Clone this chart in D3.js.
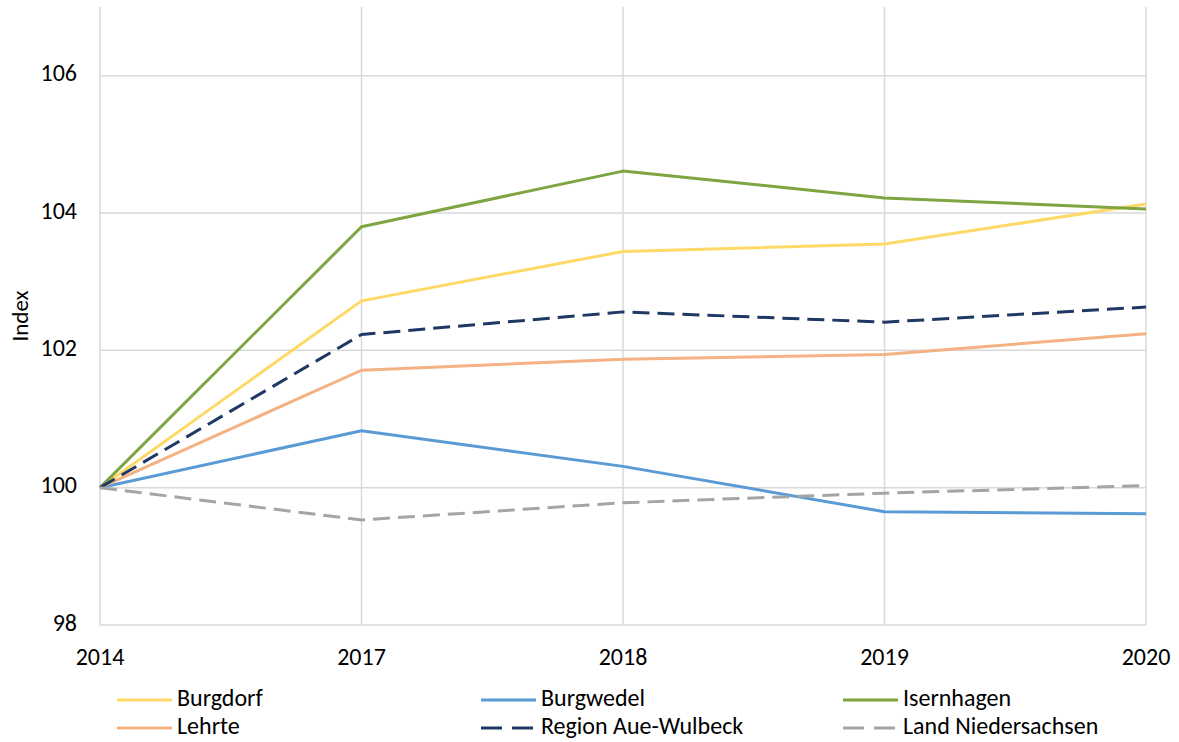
<!DOCTYPE html>
<html>
<head>
  <meta charset="utf-8">
  <style>
    body { margin: 0; background: #fff; }
    text { font-family: Carlito, Lato, "Open Sans", sans-serif; fill: #000; }
  </style>
</head>
<body>
  <script src="https://cdn.jsdelivr.net/npm/d3@7"></script>
  <script>
    const W = 1179, H = 742;

    // data
    const years = ["2014", "2017", "2018", "2019", "2020"];
    const yTicks = [98, 100, 102, 104, 106];
    const burgdorf   = [100, 102.72, 103.44, 103.55, 104.13];
    const burgwedel  = [100, 100.83, 100.31, 99.65, 99.62];
    const isernhagen = [100, 103.80, 104.61, 104.22, 104.06];
    const lehrte     = [100, 101.71, 101.87, 101.94, 102.24];
    const region     = [100, 102.23, 102.56, 102.41, 102.63];
    const land       = [100, 99.53, 99.78, 99.92, 100.03];

    const series = [
      { name: "Burgdorf", values: burgdorf, color: "#ffd966", dash: null },
      { name: "Burgwedel", values: burgwedel, color: "#5b9bd5", dash: null },
      { name: "Isernhagen", values: isernhagen, color: "#7fa442", dash: null },
      { name: "Lehrte", values: lehrte, color: "#f4b183", dash: null },
      { name: "Region Aue-Wulbeck", values: region, color: "#1f3864", dash: "17,8" },
      { name: "Land Niedersachsen", values: land, color: "#a5a5a5", dash: "17,8" }
    ];

    const x = d3.scalePoint().domain(years).range([100, 1146]);
    const y = d3.scaleLinear().domain([98, 107]).range([625, 7]);

    const svg = d3.select("body").append("svg")
      .attr("width", W).attr("height", H);

    // grid
    svg.append("g").selectAll("line.h")
      .data(yTicks).enter().append("line")
      .attr("x1", 100).attr("x2", 1146)
      .attr("y1", d => y(d)).attr("y2", d => y(d))
      .attr("stroke", "#d9d9d9").attr("stroke-width", 1.5);
    svg.append("g").selectAll("line.v")
      .data(years).enter().append("line")
      .attr("x1", d => x(d)).attr("x2", d => x(d))
      .attr("y1", y(107)).attr("y2", y(98))
      .attr("stroke", "#d9d9d9").attr("stroke-width", 1.5);

    // y labels
    svg.append("g").selectAll("text")
      .data(yTicks).enter().append("text")
      .attr("x", 77).attr("y", d => y(d))
      .attr("text-anchor", "end").attr("dominant-baseline", "middle")
      .style("font-size", "24px")
      .text(d => d);

    // x labels
    svg.append("g").selectAll("text")
      .data(years).enter().append("text")
      .attr("x", d => x(d)).attr("y", 665)
      .attr("text-anchor", "middle")
      .style("font-size", "24px")
      .text(d => d);

    svg.append("text")
      .attr("transform", `translate(28, 316) rotate(-90)`)
      .attr("text-anchor", "middle")
      .style("font-size", "23px")
      .text("Index");

    const line = d3.line()
      .x((d, i) => x(years[i]))
      .y(d => y(d));

    svg.append("g").selectAll("path")
      .data(series).enter().append("path")
      .attr("d", d => line(d.values))
      .attr("fill", "none")
      .attr("stroke", d => d.color)
      .attr("stroke-width", 3)
      .attr("stroke-dasharray", d => d.dash)
      .attr("stroke-linejoin", "round");

    // legend
    const colX = [117, 481, 843];
    const rowY = [700, 728];
    const leg = svg.append("g").selectAll("g")
      .data(series).enter().append("g")
      .attr("transform", (d, i) => `translate(${colX[i % 3]}, ${rowY[Math.floor(i / 3)]})`);
    leg.append("line")
      .attr("x1", 0).attr("x2", 55).attr("y1", 0).attr("y2", 0)
      .attr("stroke", d => d.color).attr("stroke-width", 3)
      .attr("stroke-dasharray", d => d.dash ? "21,10" : null);
    leg.append("text")
      .attr("x", 60).attr("y", 0)
      .attr("dominant-baseline", "middle")
      .style("font-size", "24px")
      .text(d => d.name);
  </script>
</body>
</html>
